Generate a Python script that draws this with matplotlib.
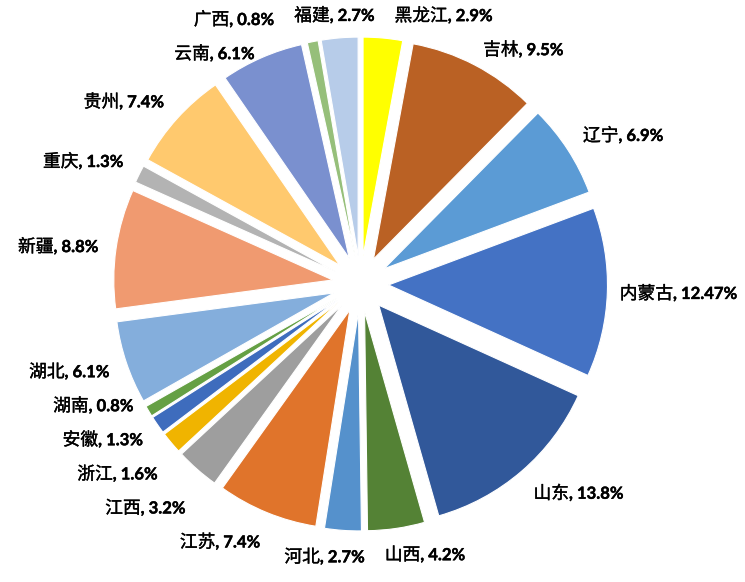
import numpy as np
import matplotlib
matplotlib.use('Agg')
import matplotlib.pyplot as plt
import matplotlib.patheffects as pe

plt.rcParams['font.family'] = ['Noto Sans CJK SC', 'DejaVu Sans']

# share by province, clockwise from 12 o'clock
provinces = ['黑龙江', '吉林', '辽宁', '内蒙古', '山东', '山西', '河北', '江苏', '江西',
             '浙江', '安徽', '湖南', '湖北', '新疆', '重庆', '贵州', '云南', '广西', '福建']
shares = [2.9, 9.5, 6.9, 12.47, 13.8, 4.2, 2.7, 7.4, 3.2,
          1.6, 1.3, 0.8, 6.1, 8.8, 1.3, 7.4, 6.1, 0.8, 2.7]

colors = ['#FFFF00', '#BA6124', '#5B9BD5', '#4472C4', '#31589A', '#548235', '#5591CC',
          '#E0742B', '#9E9E9E', '#F0B400', '#3E6CBD', '#65A044', '#84AEDC', '#F09A70',
          '#B3B3B3', '#FFC96E', '#7A90CF', '#96BF7A', '#B7CCE9']

W, H = 745, 582
fig = plt.figure(figsize=(W / 100, H / 100), dpi=100)
ax = fig.add_axes([0, 0, 1, 1])

cx, cy = 360.5, 298
R = 219
expl = 28
ax.pie(shares, colors=colors, startangle=90, counterclock=False, radius=R,
       center=(cx, cy), explode=[expl] * len(shares),
       wedgeprops=dict(edgecolor='white', linewidth=0.8))
ax.set_xlim(0, W)
ax.set_ylim(0, H)
ax.set_aspect('equal')
ax.axis('off')

# label placement (outside end, then pushed apart where they collide)
fig.canvas.draw()
rend = fig.canvas.get_renderer()
total = sum(shares)
cum = np.cumsum([0] + shares[:-1])
mids = np.radians(90 - (cum + np.array(shares) / 2) / total * 360)

thick_cn = [pe.withStroke(linewidth=0.25, foreground='black')]
thick_num = [pe.withStroke(linewidth=0.3, foreground='black')]
RL = R + expl + 18
parts, X, Y, TW, CO = [], [], [], [], []
for name, v, th in zip(provinces, shares, mids):
    t1 = ax.text(0, 0, name, fontsize=12.8, ha='left', va='baseline', color='black',
                 path_effects=thick_cn)
    t2 = ax.text(0, 0, f', {v}%', fontsize=12, fontweight='bold', ha='left',
                 va='baseline', color='black', family=['Lato', 'DejaVu Sans'],
                 path_effects=thick_num)
    b1 = t1.get_window_extent(renderer=rend)
    b2 = t2.get_window_extent(renderer=rend)
    w = b1.width + b2.width
    h = max(b1.y1, b2.y1) - min(b1.y0, b2.y0)
    c, s = np.cos(th), np.sin(th)
    X.append(cx + RL * c + w / 2 * np.clip(3 * c, -1, 1))
    Y.append(cy + RL * s + h / 2 * np.clip(3 * s, -1, 1) - (5 if s > 0 else 0))
    TW.append(w)
    CO.append((max(b1.y1, b2.y1) + min(b1.y0, b2.y0)) / 2)
    parts.append((t1, t2, b1.width))

X = np.array(X)
Y = np.array(Y)
vert = np.abs(np.sin(mids))
topbot = vert >= 0.95
n = len(parts)
for _ in range(400):
    moved = False
    for i in range(n):
        for j in range(i + 1, n):
            ox = (TW[i] + TW[j]) / 2 + 20 - abs(X[i] - X[j])
            if topbot[i] and topbot[j]:
                oy = 26 - abs(Y[i] - Y[j])
                if ox > 0 and oy > 0:
                    d = np.sign(X[j] - X[i]) or 1
                    X[i] -= d * (ox / 2 + 0.1)
                    X[j] += d * (ox / 2 + 0.1)
                    moved = True
            else:
                oy = 34 - abs(Y[i] - Y[j])
                if ox > 0 and oy > 0:
                    d = np.sign(Y[j] - Y[i]) or 1
                    if topbot[i]:
                        Y[j] += d * (oy + 0.1)
                    elif topbot[j]:
                        Y[i] -= d * (oy + 0.1)
                    else:
                        Y[i] -= d * (oy / 2 + 0.1)
                        Y[j] += d * (oy / 2 + 0.1)
                    moved = True
    if not moved:
        break

X = np.clip(X, np.array(TW) / 2 + 5, W - 8 - np.array(TW) / 2)

for (t1, t2, w1), x, y, w, co in zip(parts, X, Y, TW, CO):
    left = x - w / 2
    t1.set_position((left, y - co))
    t2.set_position((left + w1, y - co))

fig.savefig('out.png', dpi=100, facecolor='white')
